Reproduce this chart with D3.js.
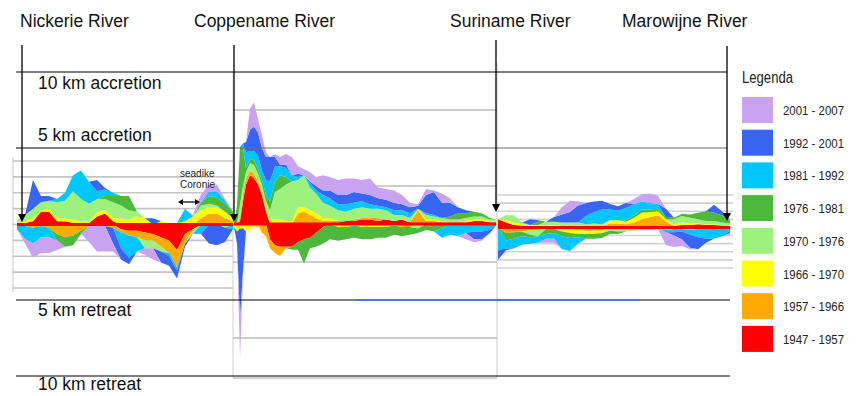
<!DOCTYPE html>
<html>
<head>
<meta charset="utf-8">
<script src="https://cdn.jsdelivr.net/npm/d3@7"></script>
<style>
  body { margin: 0; background: #fff; }
  svg { display: block; font-family: "Liberation Sans", Arial, Helvetica, sans-serif; }
</style>
</head>
<body>
<svg id="chart" width="856" height="396"></svg>
<script>
// Periods (stacking order: nearest the 1947 coastline first) and legend colours
const periods = ["1947 - 1957", "1957 - 1966", "1966 - 1970", "1970 - 1976",
                 "1976 - 1981", "1981 - 1992", "1992 - 2001", "2001 - 2007"];
const colours = ["#ff0000", "#ffaa00", "#ffff00", "#9cf27c",
                 "#4db83c", "#00c6ff", "#3866f2", "#c9a2f2"];

const rivers = ["Nickerie River", "Coppename River", "Suriname River", "Marowijne River"];
const guideKm = [10, 5, -5, -10];
const guideLabels = ["10 km accretion", "5 km accretion", "5 km retreat", "10 km retreat"];

// Nickerie -> Coppename: distance along coast (km) and change per period (km, + = accretion)
const westKm   = [0, 4, 8, 12, 16, 20, 24, 28, 32, 36, 40, 44, 48, 52, 56, 60, 64, 68, 72, 76, 80, 84, 88, 92, 96, 100, 104, 108];
const west1947 = [.1, .1, .2, .8, .8, .2, .2, .1, .1, .1, .5, .7, .2, -.3, -.4, -.4, -.5, -.6, -.8, -1.0, -1.6, -.6, -.3, .1, .1, .1, .1, .1];
const west1957 = [0, -.1, -.2, -.1, -.2, -.6, -.8, -.7, -.4, -.1, -.1, -.1, -.2, -.2, -.3, -.4, -.5, -.4, -.6, -.8, -1.1, -.6, 0, .3, .6, .6, .3, .1];
const west1966 = [0, .1, .2, .1, .2, .2, .2, .2, .1, .1, .3, .2, .2, .4, .3, .5, .4, 0, .2, .1, .1, .2, .5, .5, .4, .4, .4, .2];
const west1970 = [.2, .4, .6, .5, .5, 1.0, 1.1, 1.8, 1.4, 1.1, .8, .7, 1.0, .8, .6, .3, -.5, -.5, -.3, 0, 0, 0, -.3, .3, .2, .1, -.2, 0];
const west1976 = [0, 0, 0, 0, 0, -.4, -.6, -.6, -.2, 0, 0, .2, .4, .6, .9, 0, 0, 0, 0, 0, 0, 0, 0, .2, .5, .5, .5, .4];
const west1981 = [-.3, -.8, -1.0, -.7, -.6, .2, .5, 1.0, 1.8, 1.4, .5, .4, .2, -1.0, -1.4, -.9, 0, 0, 0, -.2, -.2, .8, 0, -.6, .3, .4, .2, -.3];
const west1992 = [0, 0, 1.8, .4, .3, 0, 0, 0, 0, 0, .7, .1, -1.0, -.7, -.4, 0, 0, .4, -.7, -.6, -.5, -.2, 0, 0, -1.2, -1.3, -.9, 0];
const west2001 = [0, -.3, -.9, -1.0, -1.0, -.6, 0, 0, 0, -1.0, -1.6, -1.6, -.5, 0, 0, 0, -.4, -.7, 0, 0, 0, 0, .1, .5, .4, .4, .1, 0];

// Coppename -> Suriname
const midKm   = [0, 1.5, 3, 4.5, 6, 8, 10, 12, 14, 16, 18, 20.5, 23, 26, 29, 32, 35, 38, 41, 44.5, 48, 52, 56, 60, 64, 68, 72, 76, 80, 84, 88, 92, 96, 100, 104, 108, 112, 116, 120, 124, 128, 131];
const mid1947 = [0, 0, .2, 1.5, 2.6, 3.2, 3.0, 2.6, 1.9, .8, -1.0, -1.4, -1.5, -1.5, -1.5, -1.2, -1.0, -.9, -.6, -.2, .1, .1, .2, .2, .3, .3, .2, .3, .2, .3, .1, .1, .1, .1, .1, .1, .1, .1, .2, .2, .1, .1];
const mid1957 = [0, 0, .1, .5, .4, .3, .3, .2, -.6, -.8, -.6, -.5, -.6, -.1, 0, .7, .8, .6, .4, .2, .1, .1, 0, .1, .1, .1, .2, 0, 0, -.2, -.2, .8, .1, .1, 0, 0, 0, 0, 0, 0, 0, 0];
const mid1966 = [-.2, -.5, -.3, -.3, -.5, -.3, -.2, -.2, .2, .2, .3, .3, .3, .2, .2, .4, .3, .3, .3, .2, .2, -.2, -.2, -.1, -.2, -.2, -.2, -.2, -.1, 0, 0, .1, .1, .1, .1, 0, 0, .1, .1, .1, .1, .1];
const mid1970 = [0, 0, 1.0, .5, .4, .5, .6, .5, .5, .5, .6, 1.8, 2.0, 2.4, 2.6, 1.8, 2.1, 1.5, 1.3, 1.0, .8, .7, .6, .7, .7, .6, .6, .6, .4, .3, .3, -.3, .3, .2, .2, .2, .2, .2, .2, .2, .1, .1];
const mid1976 = [0, 1.2, 3.8, 2.5, .3, .3, .3, .3, .3, .4, .6, .7, .9, .5, -.2, -.5, -1.6, -.7, -.9, -1.1, -1.0, -.9, -.8, -.8, -.8, -.8, -.7, -.7, -.6, -.6, -.5, -.3, -.4, -.5, -.3, .2, .4, .3, .3, .2, .1, 0];
const mid1981 = [0, 0, 0, .3, 1.0, .5, .6, .9, .6, 1.0, 1.3, 1.0, .6, .6, .4, .2, 0, .3, .2, .5, .5, .4, .5, .4, .4, .3, .2, .2, .3, .3, .3, 0, .1, .1, -.6, -.7, -.8, -.6, -.5, -.5, -.4, -.1];
const mid1992 = [0, -.8, -6.0, -2.8, .7, 1.4, 1.6, 1.5, 1.5, 1.5, 1.6, .6, .1, .2, 0, .2, 0, .1, .3, .3, .5, .6, .6, .7, .5, .6, .5, .5, .5, .4, .4, .2, 1.2, 1.5, 1.0, .9, .4, .2, -.5, -.5, -.2, 0];
const mid2001 = [0, 0, -2.5, -.3, 0, 1.4, 1.6, .9, .8, .3, 0, .2, .5, .7, 1.2, .5, .4, .6, .6, 1.0, .9, 1.0, 1.1, .9, .9, 1.1, .7, .7, .8, .6, .3, .1, .4, .1, .6, .3, 0, -.4, -.2, -.1, 0, 0];

// Suriname -> Marowijne
const eastKm   = [0, 4, 8, 12, 16, 20, 24, 28, 32, 36, 40, 44, 48, 52, 56, 60, 64, 68, 72, 76, 80, 84, 88, 92, 96, 100, 104, 108, 112, 116];
const east1947 = [1.0, .6, .3, .2, .2, .2, .1, .1, .1, .2, .2, .1, .2, .2, .1, .1, .1, .1, .1, .1, .1, .1, .2, .3, .3, .4, .3, .3, .2, .2];
const east1957 = [0, -.7, -.6, -.5, -.3, -.3, -.2, -.2, -.1, -.2, -.3, -.4, -.4, -.4, .4, .4, .3, .5, .9, 1.2, 1.4, .6, -.2, -.2, -.3, -.2, -.2, -.1, -.1, -.1];
const east1966 = [0, .3, .3, .2, .1, .1, .2, .2, -.4, -.5, -.5, -.4, -.4, -.3, .4, .4, .3, .6, .8, .6, .5, .3, .2, .3, .2, .1, .1, .1, .1, .1];
const east1970 = [0, .6, .9, .2, -.6, -.8, .4, .4, .5, .4, .4, .3, .3, .2, -.4, -.5, -.5, -.4, -.3, -.3, -.2, -.3, .6, .8, .7, .5, .4, .4, .3, .2];
const east1976 = [0, -.9, -.8, -.6, -.3, .4, -.6, -.5, -.6, -.6, -.4, -.6, -.6, -.6, -.4, -.3, .2, .3, .4, .3, .3, .2, .2, .3, .4, .8, 1.2, 1.0, .9, .4];
const east1981 = [-2.8, -1.0, -1.2, -1.0, -.8, -.8, -.6, -.7, -1.6, -1.6, -.8, 1.0, 1.4, 1.8, 1.3, 1.2, 1.5, 1.4, 1.0, .8, .6, -.3, -.4, -.3, -.6, -1.0, -1.2, -1.3, -1.0, -.3];
const east1992 = [-1.2, -.2, 0, 0, .7, .2, 0, .6, 1.0, 1.3, 2.1, 1.6, 1.3, 1.1, .7, .5, .6, 0, 0, 0, 0, 1.1, -.4, -1.0, -1.6, -1.5, -.5, 1.0, .5, -.3];
const east2001 = [0, 0, 0, 0, 0, 0, -.5, -.5, .9, 1.4, .5, 0, 0, 0, 0, 0, 0, .6, .9, 1.2, 1.0, -1.6, -1.4, -.8, -.2, 0, 0, 0, 0, -.2];

const svg = d3.select("#chart");

// Each panel is a separate image strip with its own scale
const panels = [
  { km: westKm, series: [west1947, west1957, west1966, west1970, west1976, west1981, west1992, west2001],
    x: d3.scaleLinear().domain([0, 108]).range([17, 233]),
    y: d3.scaleLinear().domain([-4, 4]).range([288, 161]),
    grid: d3.range(-4, 5), frame: [13, 233], gridColour: "#c4c4c4" },
  { km: midKm, series: [mid1947, mid1957, mid1966, mid1970, mid1976, mid1981, mid1992, mid2001],
    x: d3.scaleLinear().domain([0, 131]).range([234, 496]),
    y: d3.scaleLinear().domain([-10, 10]).range([376, 72]),
    grid: [-7.5, -2.5, 0, 2.5, 7.5], frame: [233, 497], gridColour: "#bdbdbd" },
  { km: eastKm, series: [east1947, east1957, east1966, east1970, east1976, east1981, east1992, east2001],
    x: d3.scaleLinear().domain([0, 116]).range([498, 730]),
    y: d3.scaleLinear().domain([-5, 4]).range([268, 195]),
    grid: d3.range(-5, 5), frame: [497, 733], gridColour: "#d2d2d2" }
];
const kmScale = panels[1].y;

// Panel frames (light grey strips)
svg.append("line").attr("x1", 13).attr("x2", 13).attr("y1", 157).attr("y2", 292)
  .attr("stroke", "#d6d6d6").attr("stroke-width", 1.5);
svg.append("line").attr("x1", 233).attr("x2", 233).attr("y1", 72).attr("y2", 378)
  .attr("stroke", "#e0e0e0").attr("stroke-width", 1.5);
svg.append("line").attr("x1", 497).attr("x2", 497).attr("y1", 62).attr("y2", 378)
  .attr("stroke", "#dcdcdc").attr("stroke-width", 1.5);
svg.append("line").attr("x1", 233).attr("x2", 497).attr("y1", 378).attr("y2", 378)
  .attr("stroke", "#cfcfcf").attr("stroke-width", 2);

panels.forEach(p => {
  // grid
  svg.append("g").selectAll("line").data(p.grid).join("line")
    .attr("x1", p.frame[0]).attr("x2", p.frame[1])
    .attr("y1", d => p.y(d)).attr("y2", d => p.y(d))
    .attr("stroke", p.gridColour).attr("stroke-width", 1.6);

  const rows = p.km.map((k, i) => {
    const r = { km: k };
    periods.forEach((per, j) => { r[per] = p.series[j][i]; });
    return r;
  });

  // accretion and retreat stacked separately so each sits on the right side of the coastline
  const gains = d3.stack().keys(periods).value((d, k) => Math.max(0, d[k]))(rows);
  const losses = d3.stack().keys(periods).value((d, k) => Math.min(0, d[k]))(rows);

  const area = d3.area()
    .x(d => p.x(d.data.km))
    .y0(d => p.y(d[0]))
    .y1(d => p.y(d[1]));

  const g = svg.append("g");
  g.selectAll("path.gain").data(gains).join("path").attr("class", "gain")
    .attr("d", area).attr("fill", (d, i) => colours[i]);
  g.selectAll("path.loss").data(losses).join("path").attr("class", "loss")
    .attr("d", area).attr("fill", (d, i) => colours[i]);

  // 1947 coastline
  g.append("line")
    .attr("x1", p.x(p.km[0])).attr("x2", p.x(p.km[p.km.length - 1]))
    .attr("y1", p.y(0)).attr("y2", p.y(0))
    .attr("stroke", colours[0]).attr("stroke-width", 3);
});

// 5 and 10 km reference lines
svg.append("line").attr("x1", 16).attr("x2", 727).attr("y1", kmScale(10)).attr("y2", kmScale(10))
  .attr("stroke", "#000").attr("stroke-width", 1.2);
svg.append("line").attr("x1", 16).attr("x2", 233).attr("y1", kmScale(5)).attr("y2", kmScale(5))
  .attr("stroke", "#000").attr("stroke-width", 1.2);
svg.append("line").attr("x1", 233).attr("x2", 727).attr("y1", kmScale(5)).attr("y2", kmScale(5))
  .attr("stroke", "#666").attr("stroke-width", 1.2);
svg.append("line").attr("x1", 16).attr("x2", 730).attr("y1", kmScale(-5)).attr("y2", kmScale(-5))
  .attr("stroke", "#000").attr("stroke-width", 1.2);
svg.append("line").attr("x1", 355).attr("x2", 640).attr("y1", kmScale(-5)).attr("y2", kmScale(-5))
  .attr("stroke", "#3b7ad6").attr("stroke-width", 1.4);
svg.append("line").attr("x1", 16).attr("x2", 730).attr("y1", kmScale(-10)).attr("y2", kmScale(-10))
  .attr("stroke", "#000").attr("stroke-width", 1.2);

const guideOffsets = [17, -7, 16, 14];
svg.append("g").selectAll("text").data(guideKm).join("text")
  .attr("x", 38).attr("y", (d, i) => kmScale(d) + guideOffsets[i])
  .attr("font-size", 17.5).attr("fill", "#111")
  .text((d, i) => guideLabels[i]);

// River mouths: label positions and arrows down to the coastline
const riverX = [panels[0].x(2.5), panels[1].x(0), panels[1].x(131), panels[2].x(114.5)];
const labelX = [20, 194, 450, 622];
const arrowTop = [45, 45, 40, 46];
const arrowTip = [222, 222, 212, 221];

svg.append("g").selectAll("text").data(rivers).join("text")
  .attr("x", (d, i) => labelX[i]).attr("y", 27)
  .attr("font-size", 17.5).attr("fill", "#111")
  .text(d => d);

const arrows = svg.append("g");
rivers.forEach((r, i) => {
  arrows.append("line")
    .attr("x1", riverX[i]).attr("x2", riverX[i])
    .attr("y1", arrowTop[i]).attr("y2", arrowTip[i] - 6)
    .attr("stroke", "#000").attr("stroke-width", 1.3);
  arrows.append("path")
    .attr("d", `M${riverX[i] - 4},${arrowTip[i] - 8}L${riverX[i] + 4},${arrowTip[i] - 8}L${riverX[i]},${arrowTip[i]}Z`)
    .attr("fill", "#000");
});

// Seadike Coronie annotation
const dike = [panels[0].x(80.5), panels[0].x(91.5)];
svg.append("text").attr("x", 180).attr("y", 177).attr("font-size", 10).attr("fill", "#222").text("seadike");
svg.append("text").attr("x", 180).attr("y", 188).attr("font-size", 10).attr("fill", "#222").text("Coronie");
svg.append("line").attr("x1", dike[0] + 3).attr("x2", dike[1] - 3).attr("y1", 202).attr("y2", 202)
  .attr("stroke", "#000").attr("stroke-width", 1.2);
svg.append("path")
  .attr("d", `M${dike[0]},202l5,-3v6Z M${dike[1]},202l-5,-3v6Z`)
  .attr("fill", "#000");

// Legend (latest period on top); narrow lettering squeezed to fit
const legend = svg.append("g");
legend.append("text").attr("x", 742).attr("y", 83).attr("font-size", 16).attr("fill", "#222")
  .attr("textLength", 51).attr("lengthAdjust", "spacingAndGlyphs").text("Legenda");
const legendRows = d3.range(periods.length).reverse();
legend.selectAll("rect").data(legendRows).join("rect")
  .attr("x", 742).attr("y", (d, i) => 97 + i * 32.7)
  .attr("width", 31).attr("height", 26)
  .attr("fill", d => colours[d]);
legend.selectAll("text.lab").data(legendRows).join("text").attr("class", "lab")
  .attr("x", 783).attr("y", (d, i) => 97 + i * 32.7 + 18)
  .attr("font-size", 13).attr("fill", "#222")
  .attr("textLength", 61).attr("lengthAdjust", "spacingAndGlyphs")
  .text(d => periods[d]);
</script>
</body>
</html>
